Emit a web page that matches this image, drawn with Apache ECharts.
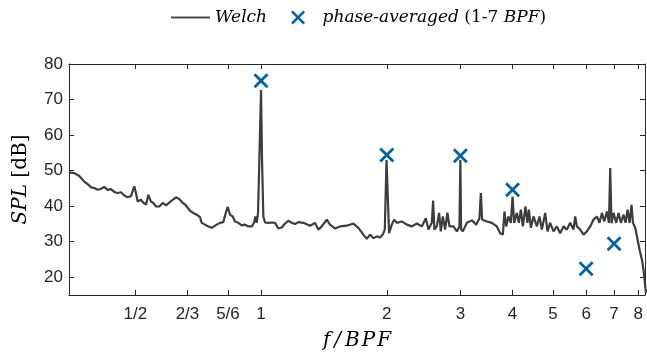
<!DOCTYPE html>
<html>
<head>
<meta charset="utf-8">
<script src="https://cdn.jsdelivr.net/npm/echarts@6/dist/echarts.min.js"></script>
<style>html,body{margin:0;padding:0;background:#fff}#c{width:647px;height:356px}</style>
</head>
<body>
<div id="c"></div>
<script>
// ---- data ----
const tickValues = [0.5, 2/3, 5/6, 1, 2, 3, 4, 5, 6, 7, 8];
const tickLabels = ['1/2', '2/3', '5/6', '1', '2', '3', '4', '5', '6', '7', '8'];
const yTickValues = [20, 30, 40, 50, 60, 70, 80];

const welchF = [
0.3468,0.3572,0.3672,0.3775,0.3846,0.3917,0.3988,0.4064,0.4138,0.4214,0.4294,0.4373,0.4453,0.4538,0.4621,0.4706,0.4795,0.4883,0.4972,0.5019,0.5066,0.5159,0.5225,0.5304,0.5372,0.5452,0.5522,0.5605,0.5708,0.5816,0.5922,0.6031,0.6146,0.6258,0.6373,0.6494,0.6588,
0.6638,0.6761,0.6884,0.7015,0.7143,0.7211,0.7343,0.7478,0.7620,0.7687,0.7833,0.7976,0.8123,0.8232,0.8323,0.8429,0.8555,0.8664,0.8823,0.8991,0.9156,0.9324,0.9500,0.9621,0.9691,0.9766,0.9836,0.9907,1.0,1.0055,1.0128,1.0223,1.0411,1.0608,1.0802,1.1000,1.1209,1.1414,1.1624,1.1844,1.2062,1.2284,
1.2627,1.3102,1.3469,1.3715,1.3975,1.4366,1.4630,1.5038,1.5459,1.6041,1.6636,1.7100,1.7578,1.7910,1.8239,1.8575,1.8927,1.9275,1.9562,1.9780,1.9923,1.997,2.003,2.0255,2.0560,2.0822,2.1135,2.1724,2.2333,2.2957,2.3600,2.4258,2.4800,2.5156,2.5632,2.5817,2.6002,2.6349,2.6686,2.6938,2.7237,2.7585,2.7938,2.8247,
2.8876,2.9424,2.985,3.0,3.012,3.0410,3.1089,3.1979,3.2727,3.3330,3.3587,3.3830,3.4715,3.5686,3.6684,3.7358,3.7919,3.8254,3.8615,3.9108,3.9627,4.0,4.0354,4.0959,4.1413,4.1871,4.2338,4.2948,4.3423,4.3763,4.4247,4.4884,4.5734,4.6394,4.7014,4.7878,4.8489,4.9217,5.0122,5.1068,5.2006,5.2961,5.3963,5.4954,5.5964,5.6493,5.7022,5.8069,5.9137,6.0254,6.1361,6.2488,6.3667,6.4590,6.5448,6.6285,6.7279,6.8031,6.8522,6.9010,6.9780,7.0828,7.1734,7.2688,7.3742,7.4558,7.5383,7.6224,7.7067,7.7663,7.8664,7.9669,8.053,8.160,8.233,8.297,8.342
];
const welchDb = [
49.5,49.3,48.5,46.9,46.2,45.3,45.1,44.6,44.9,45.4,44.6,44.8,44.0,43.7,43.9,43.0,42.5,42.8,45.6,43.7,41.3,41.8,41.0,40.4,43.2,41.3,40.9,39.9,39.9,40.9,40.2,41.0,41.8,42.5,42.0,40.9,40.4,
39.9,38.7,38.1,37.6,36.9,35.3,34.8,34.3,33.9,33.6,34.8,35.3,35.5,38.1,39.8,37.6,37.1,35.7,35.3,34.6,34.8,34.3,34.3,35.3,37.1,35.3,38.1,53.0,72.7,53.0,37.1,35.4,35.3,35.4,35.3,33.7,34.0,35.1,35.9,35.3,35.0,35.5,
35.3,34.5,35.3,33.4,34.3,36.2,34.8,33.7,34.3,34.5,35.1,33.9,32.0,30.8,32.0,31.0,31.5,31.2,32.0,33.4,32.9,53.0,53.0,32.4,34.8,36.2,35.3,35.7,34.8,34.3,35.1,34.3,36.6,33.4,35.3,41.6,33.4,34.3,38.1,32.9,37.1,33.4,38.2,34.3,
34.3,32.9,34.3,53.0,33.5,32.9,35.3,36.0,34.8,36.6,43.7,36.2,35.7,35.3,34.3,32.4,32.0,38.5,34.3,37.1,35.3,42.7,35.3,38.1,35.3,39.0,34.3,39.9,35.3,39.0,33.9,37.1,34.3,37.1,33.4,38.1,32.9,35.3,32.9,34.3,32.4,34.3,33.4,35.3,33.4,37.1,34.3,33.4,32.0,32.9,34.3,36.2,37.1,35.3,38.1,35.7,38.5,35.3,50.7,35.2,38.1,35.3,38.1,35.3,37.6,35.3,39.0,35.3,40.4,35.3,33.9,30.6,27.8,24.9,22.1,18.4,15.6
];
const peakF = [1, 2, 3, 4, 6, 7];
const peakDb = [75.3, 54.4, 54.2, 44.6, 22.4, 29.4];

// ---- chart ----
const axisColor = '#262626';
const xMin = 0.347, xMax = 8.3, yMin = 15, yMax = 80;
const xSymbol = 'path://M0,1.3L1.3,0L5,3.7L8.7,0L10,1.3L6.3,5L10,8.7L8.7,10L5,6.3L1.3,10L0,8.7L3.7,5Z';

function labelFor(v) {
  let best = 0, d = Infinity;
  tickValues.forEach((t, i) => { const dd = Math.abs(Math.log(v) - Math.log(t)); if (dd < d) { d = dd; best = i; } });
  return tickLabels[best];
}

const chart = echarts.init(document.getElementById('c'), null, {renderer: 'canvas'});
const serif = 'DejaVu Serif';
const sans = 'Liberation Sans';
chart.setOption({
  animation: false,
  backgroundColor: '#fff',
  legend: {
    left: 170, top: 9, padding: 0,
    itemWidth: 39, itemHeight: 14, itemGap: 24,
    textStyle: {
      fontFamily: serif, fontSize: 17, color: '#000',
      rich: {
        i: {fontFamily: serif, fontStyle: 'italic', fontSize: 17, color: '#000'},
        n: {fontFamily: serif, fontStyle: 'normal', fontSize: 17, color: '#000'}
      }
    },
    formatter: function (name) {
      return name === 'Welch' ? '{i|Welch}' : '{i|phase-averaged} {n|(1-7} {i|BPF}{n|)}';
    },
    data: [
      {name: 'Welch', itemStyle: {opacity: 0}, lineStyle: {color: '#4a4a4a', width: 2}},
      {name: 'phase-averaged (1-7 BPF)', itemStyle: {opacity: 1}}
    ]
  },
  grid: {left: 69, right: 2, top: 64, bottom: 61, containLabel: false},
  xAxis: [{
    type: 'log', logBase: 2, min: xMin, max: xMax,
    name: 'f\u2009/\u2009B\u200aP\u200aF', nameLocation: 'middle', nameGap: 36,
    nameTextStyle: {fontFamily: serif, fontStyle: 'italic', fontSize: 20, color: '#000'},
    axisLine: {show: true, onZero: false, lineStyle: {color: axisColor, width: 1}},
    axisTick: {show: true, inside: true, length: 5, customValues: tickValues, lineStyle: {color: axisColor}},
    axisLabel: {show: true, customValues: tickValues, formatter: labelFor, margin: 11,
      fontFamily: sans, fontSize: 17, color: axisColor},
    splitLine: {show: false}, minorTick: {show: false}
  }, {
    type: 'log', logBase: 2, min: xMin, max: xMax, position: 'top',
    axisLine: {show: true, onZero: false, lineStyle: {color: axisColor, width: 1}},
    axisTick: {show: true, inside: true, length: 5, customValues: tickValues, lineStyle: {color: axisColor}},
    axisLabel: {show: false}, splitLine: {show: false}
  }],
  yAxis: [{
    type: 'value', min: yMin, max: yMax,
    name: '{i|SPL} {n|[dB]}', nameLocation: 'middle', nameGap: 38,
    nameTextStyle: {
      fontFamily: serif, fontSize: 20, color: '#000',
      rich: {
        i: {fontFamily: serif, fontStyle: 'italic', fontSize: 20, color: '#000'},
        n: {fontFamily: serif, fontStyle: 'normal', fontSize: 20, color: '#000'}
      }
    },
    axisLine: {show: true, onZero: false, lineStyle: {color: axisColor, width: 1}},
    axisTick: {show: true, inside: true, length: 5, customValues: yTickValues, lineStyle: {color: axisColor}},
    axisLabel: {show: true, customValues: yTickValues, margin: 6, fontFamily: sans, fontSize: 17, color: axisColor},
    splitLine: {show: false}
  }, {
    type: 'value', min: yMin, max: yMax, position: 'right',
    axisLine: {show: true, onZero: false, lineStyle: {color: axisColor, width: 1}},
    axisTick: {show: true, inside: true, length: 5, customValues: yTickValues, lineStyle: {color: axisColor}},
    axisLabel: {show: false}, splitLine: {show: false}
  }],
  series: [{
    name: 'Welch', type: 'line', xAxisIndex: 0, yAxisIndex: 0,
    data: welchF.map((f, i) => [f, welchDb[i]]),
    showSymbol: false, symbol: 'none', clip: true,
    lineStyle: {color: '#3d3d3d', width: 2.2},
    itemStyle: {color: '#3d3d3d'},
    z: 2
  }, {
    name: 'phase-averaged (1-7 BPF)', type: 'scatter', xAxisIndex: 0, yAxisIndex: 0,
    data: peakF.map((f, i) => [f, peakDb[i]]),
    symbol: xSymbol, symbolSize: 15,
    itemStyle: {color: '#0062ad', opacity: 1},
    z: 3
  }]
});
</script>
</body>
</html>
